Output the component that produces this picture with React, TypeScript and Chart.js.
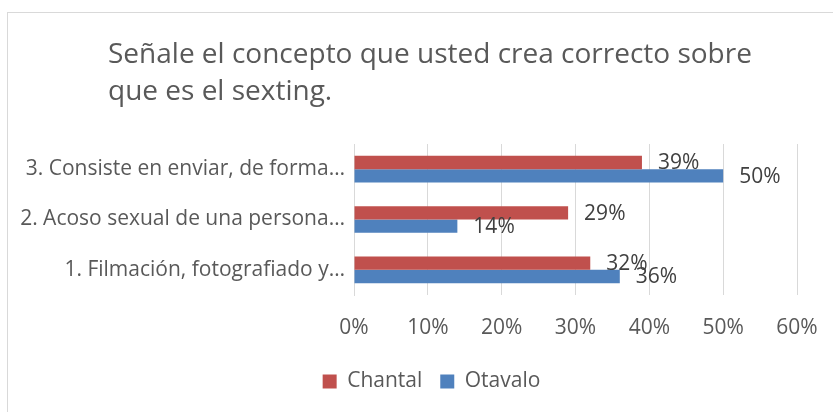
import React, { useEffect, useRef } from "react";
import { Chart, registerables } from "chart.js";

Chart.register(...registerables);

const titleLines = ["Señale el concepto que usted crea correcto sobre", "que es el sexting."];
const categories = [
  "1. Filmación, fotografiado y…",
  "2. Acoso sexual de una persona…",
  "3. Consiste en enviar, de forma…",
];
const seriesNames = ["Chantal", "Otavalo"];
const chantalValues = [32, 29, 39];
const otavaloValues = [36, 14, 50];
const seriesColors = ["#C0504D", "#4F81BD"];
const xTicksMax = 60;
const xTickStep = 10;

const FONT = "'Open Sans', sans-serif";

const titlePlugin = {
  id: "leftTitle",
  afterDraw(chart: any) {
    const ctx = chart.ctx;
    ctx.save();
    ctx.font = `28px ${FONT}`;
    ctx.fillStyle = "#595959";
    ctx.textAlign = "left";
    ctx.textBaseline = "alphabetic";
    titleLines.forEach((line, i) => {
      ctx.fillText(line, 108, 63 + i * 37);
    });
    ctx.restore();
  },
};

const legendShiftPlugin = {
  id: "legendShift",
  afterLayout(chart: any) {
    if (chart.legend) {
      chart.legend.left += 66;
    }
  },
};

const labelPlugin = {
  id: "barLabels",
  afterDatasetsDraw(chart: any) {
    const ctx = chart.ctx;
    ctx.save();
    ctx.font = `21px ${FONT}`;
    ctx.fillStyle = "#404040";
    ctx.textAlign = "left";
    ctx.textBaseline = "middle";
    chart.data.datasets.forEach((ds: any, di: number) => {
      const meta = chart.getDatasetMeta(di);
      meta.data.forEach((bar: any, i: number) => {
        ctx.fillText(`${ds.data[i]}%`, bar.x + 16, bar.y + 1);
      });
    });
    ctx.restore();
  },
};

export default function App() {
  const ref = useRef<HTMLCanvasElement>(null);

  useEffect(() => {
    document.body.style.margin = "0";
    document.body.style.overflow = "hidden";
    const chart = new Chart(ref.current!, {
      type: "bar",
      data: {
        labels: categories,
        datasets: [
          { label: seriesNames[0], data: chantalValues, backgroundColor: seriesColors[0] },
          { label: seriesNames[1], data: otavaloValues, backgroundColor: seriesColors[1] },
        ],
      },
      options: {
        indexAxis: "y",
        animation: false,
        responsive: false,
        maintainAspectRatio: false,
        datasets: { bar: { categoryPercentage: 0.53, barPercentage: 1 } },
        layout: { padding: { top: 144, left: 0, right: 36, bottom: 10 } },
        scales: {
          x: {
            min: 0,
            max: xTicksMax,
            ticks: {
              stepSize: xTickStep,
              callback: (v: any) => `${v}%`,
              color: "#595959",
              font: { family: FONT, size: 21 },
              padding: 20,
            },
            grid: { color: "#D9D9D9", drawTicks: false },
            border: { display: false },
            afterFit: (s: any) => {
              s.height = 58;
              s.paddingRight = 0;
              s.paddingLeft = 0;
            },
          },
          y: {
            reverse: true,
            ticks: {
              color: "#595959",
              font: { family: FONT, size: 21 },
              padding: 9,
            },
            grid: { display: false, drawTicks: false },
            border: { color: "#D9D9D9" },
            afterFit: (s: any) => {
              s.width = 354;
              s.paddingTop = 0;
              s.paddingBottom = 0;
            },
          },
        },
        plugins: {
          title: { display: false },
          tooltip: { enabled: false },
          legend: {
            position: "bottom",
            labels: {
              boxWidth: 14,
              boxHeight: 14,
              padding: 18,
              color: "#595959",
              font: { family: FONT, size: 21 },
            },
          },
        },
      },
      plugins: [titlePlugin, labelPlugin, legendShiftPlugin],
    });
    return () => chart.destroy();
  }, []);

  return (
    <div style={{ position: "relative", width: 833, height: 412, overflow: "hidden", background: "#fff" }}>
      <canvas ref={ref} width={833} height={412} style={{ position: "absolute", left: 0, top: 0 }} />
      <div
        style={{
          position: "absolute",
          left: 7,
          top: 12,
          width: 900,
          height: 500,
          borderTop: "1px solid #D9D9D9",
          borderLeft: "1px solid #D9D9D9",
          pointerEvents: "none",
        }}
      />
    </div>
  );
}
